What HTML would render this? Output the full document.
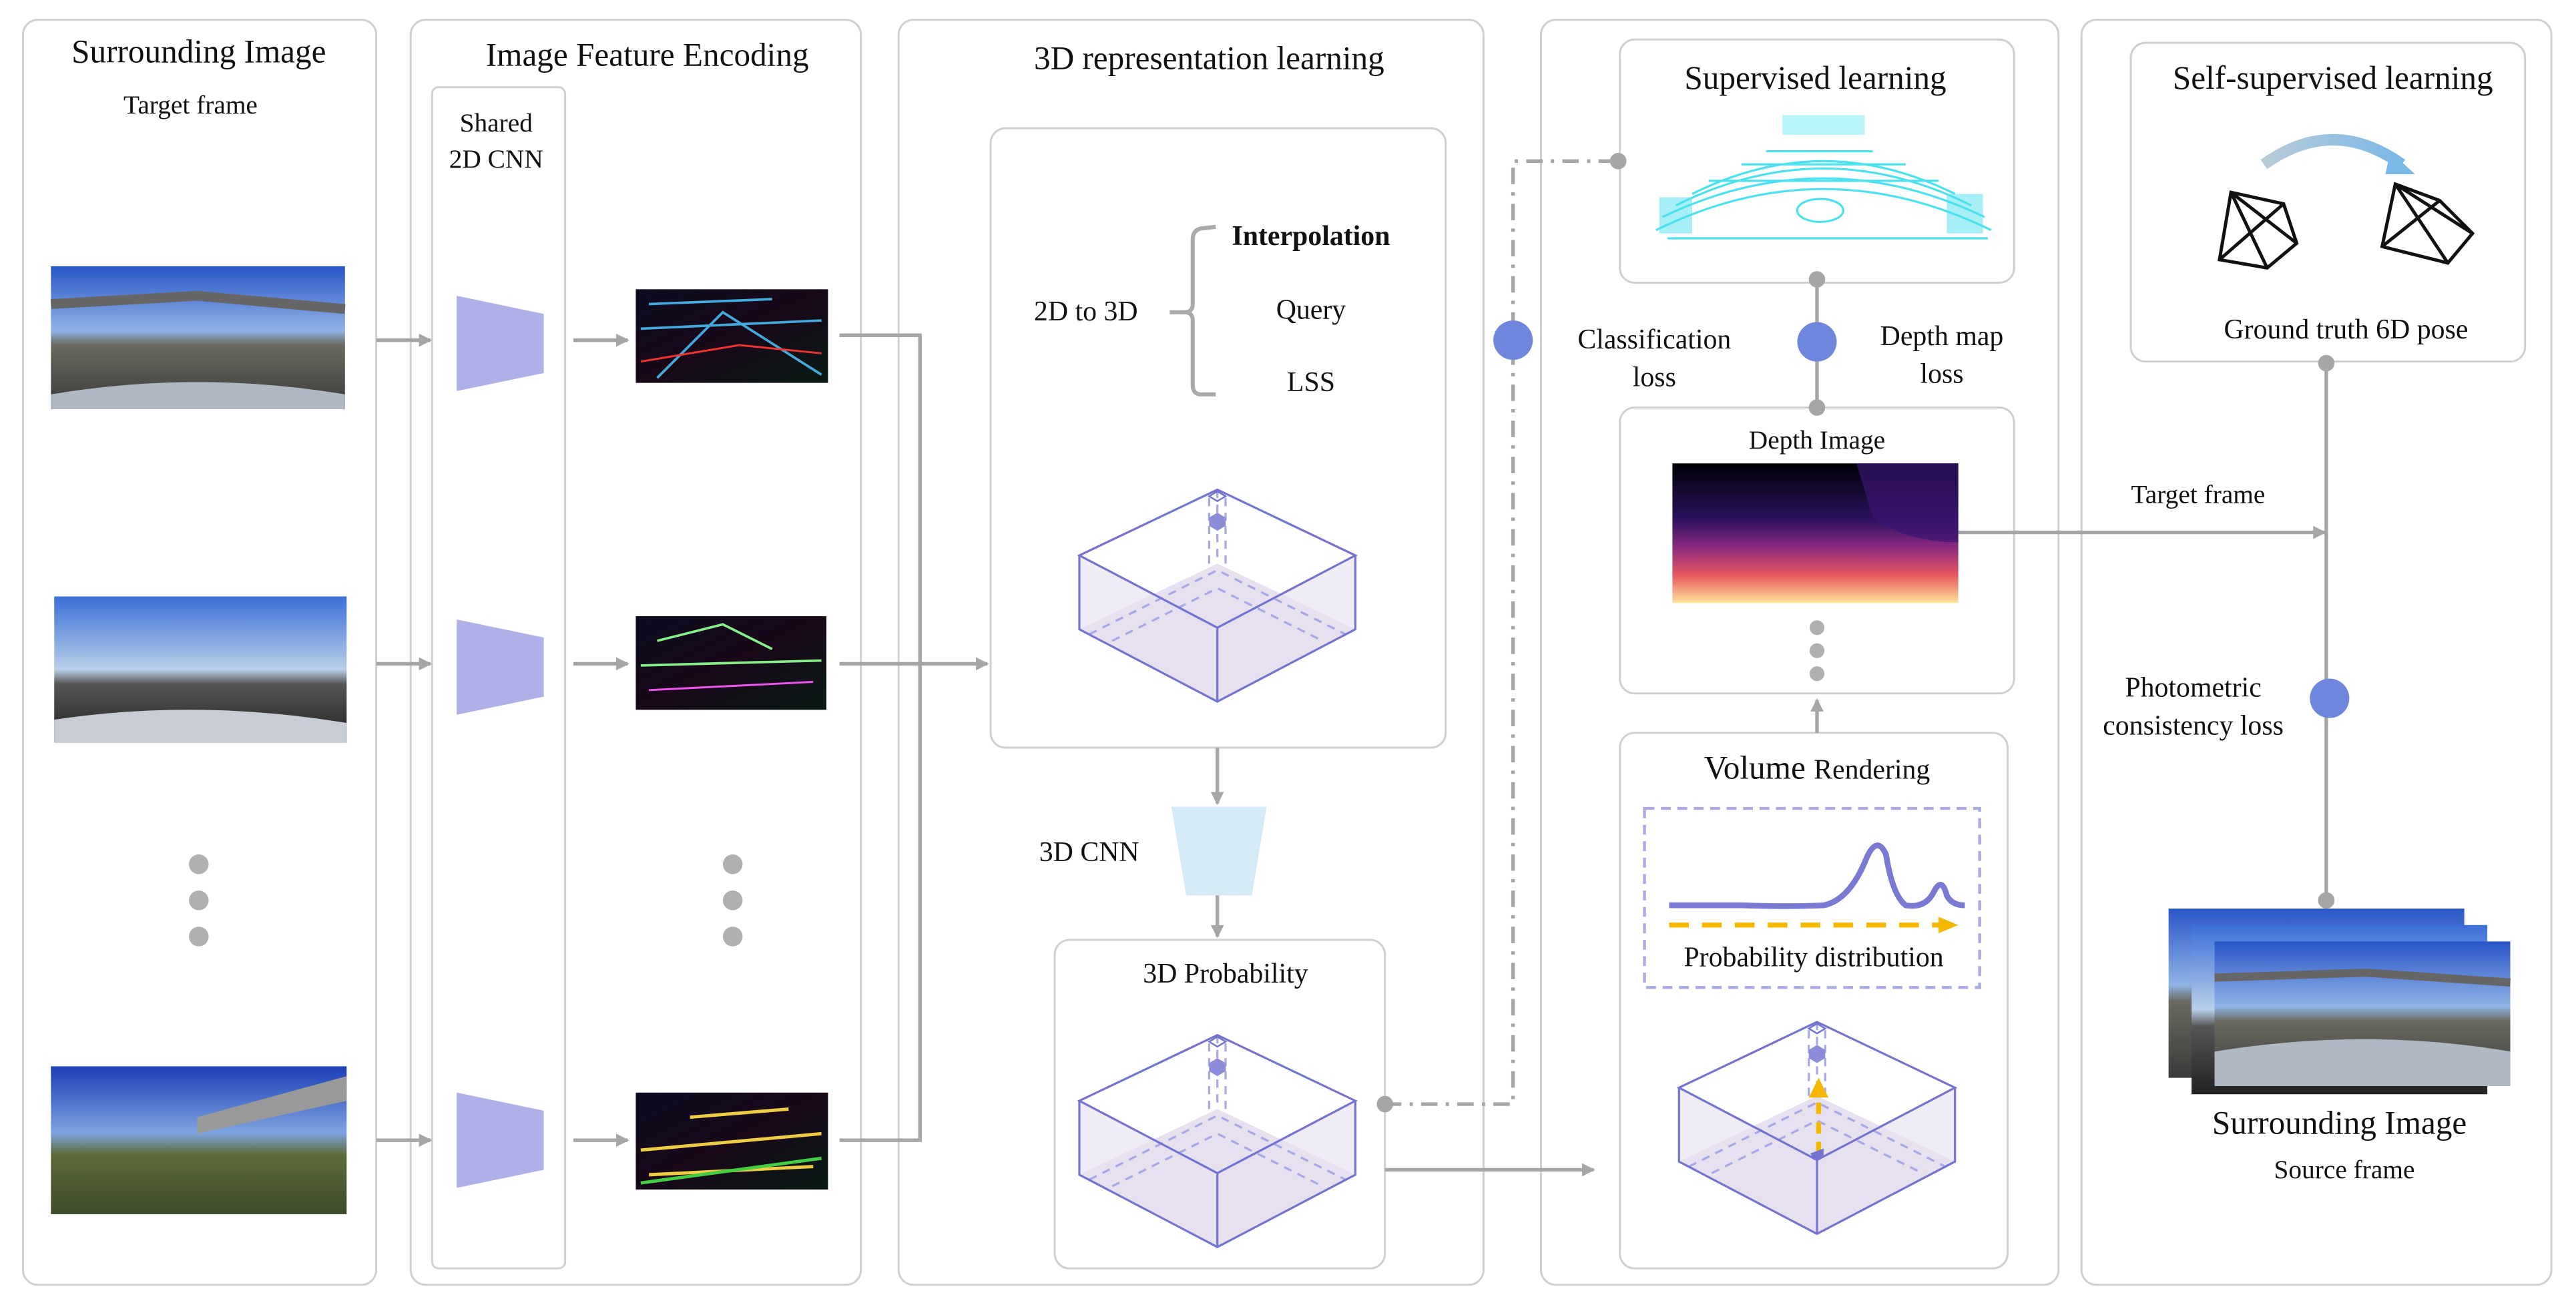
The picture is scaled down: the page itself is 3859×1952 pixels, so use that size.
<!DOCTYPE html>
<html><head><meta charset="utf-8"><style>
html,body{margin:0;padding:0;background:#fff;}
svg{display:block;font-family:"Liberation Serif",serif;}
svg text{font-family:"Liberation Serif",serif;fill:#111;}
</style></head><body>
<svg width="3859" height="1952" viewBox="0 0 1568 793" xmlns="http://www.w3.org/2000/svg" font-family="Liberation Serif, serif">
<defs>
<marker id="ah" markerWidth="8" markerHeight="8" refX="7" refY="4" orient="auto" markerUnits="userSpaceOnUse"><path d="M0,0 L8,4 L0,8 Z" fill="#a6a6a6"/></marker>
<marker id="ahy" markerWidth="12" markerHeight="10" refX="10" refY="5" orient="auto" markerUnits="userSpaceOnUse"><path d="M0,0 L12,5 L0,10 Z" fill="#f5b800"/></marker>
<linearGradient id="sky" x1="0" y1="0" x2="0" y2="1"><stop offset="0" stop-color="#2a55c8"/><stop offset="0.45" stop-color="#8fb3e6"/><stop offset="0.55" stop-color="#6a6a60"/><stop offset="1" stop-color="#3a3a3a"/></linearGradient>
<linearGradient id="sky2" x1="0" y1="0" x2="0" y2="1"><stop offset="0" stop-color="#3b6fd8"/><stop offset="0.5" stop-color="#b8cfe8"/><stop offset="0.6" stop-color="#555"/><stop offset="1" stop-color="#222"/></linearGradient>
<linearGradient id="sky3" x1="0" y1="0" x2="0" y2="1"><stop offset="0" stop-color="#1b3fb5"/><stop offset="0.45" stop-color="#7da3e0"/><stop offset="0.6" stop-color="#5d6b3a"/><stop offset="1" stop-color="#3d4a2a"/></linearGradient>
<linearGradient id="depth" x1="0" y1="0" x2="0" y2="1"><stop offset="0" stop-color="#000004"/><stop offset="0.4" stop-color="#2c115f"/><stop offset="0.6" stop-color="#8c2981"/><stop offset="0.8" stop-color="#e8575e"/><stop offset="1" stop-color="#fde59b"/></linearGradient>
<linearGradient id="feat" x1="0" y1="0" x2="1" y2="1"><stop offset="0" stop-color="#0c0c20"/><stop offset="0.5" stop-color="#180818"/><stop offset="1" stop-color="#081a14"/></linearGradient>
<linearGradient id="arc" x1="0" y1="0" x2="1" y2="0"><stop offset="0" stop-color="#b8cbd8"/><stop offset="1" stop-color="#7ab8e8"/></linearGradient>
<g id="cube">
<path d="M0,45 L-84,85 L0,129 L84,85 Z" fill="#e6e0ef"/>
<path d="M-84,40 L-84,85 L0,129 L84,85 L84,40 L0,84 Z" fill="#e6e0ef" opacity="0.6"/>
<g stroke="#a8a8e6" stroke-width="1.3" stroke-dasharray="5,4" fill="none">
<path d="M0,0 L0,45"/><path d="M-5,22 L-5,45 M5,22 L5,45"/>
<path d="M-78,88 L0,49 L78,88"/><path d="M-64,92 L0,60 L64,92"/>
<path d="M-5,5 L-5,20 M5,5 L5,20"/>
</g>
<path d="M0,0 L-84,40 L0,84 L84,40 Z M-84,40 L-84,85 L0,129 L84,85 L84,40 M0,84 L0,129" fill="none" stroke="#7474d0" stroke-width="1.3"/>
<path d="M-5,4 L0,1 L5,4 L0,7 Z" fill="none" stroke="#7474d0" stroke-width="1"/>
<path d="M-5,17 L0,14 L5,17 L5,22 L0,25 L-5,22 Z" fill="#8c8cd8"/>
</g>
</defs>

<g fill="none" stroke="#cfcfcf" stroke-width="1.2">
<rect x="14" y="12" width="215" height="770" rx="9"/>
<rect x="250" y="12" width="274" height="770" rx="9"/>
<rect x="263" y="53" width="81" height="719" rx="4"/>
<rect x="547" y="12" width="356" height="770" rx="9"/>
<rect x="603" y="78" width="277" height="377" rx="9"/>
<rect x="642" y="572" width="201" height="200" rx="9"/>
<rect x="938" y="12" width="315" height="770" rx="9"/>
<rect x="986" y="24" width="240" height="148" rx="9"/>
<rect x="986" y="248" width="240" height="174" rx="9"/>
<rect x="986" y="446" width="236" height="326" rx="9"/>
<rect x="1267" y="12" width="286" height="770" rx="9"/>
<rect x="1297" y="26" width="240" height="194" rx="9"/>
</g>

<text x="121" y="38" font-size="20" text-anchor="middle">Surrounding Image</text>
<text x="116" y="69" font-size="16" text-anchor="middle">Target frame</text>
<text x="394" y="40" font-size="20" text-anchor="middle">Image Feature Encoding</text>
<text x="302" y="80" font-size="16" text-anchor="middle">Shared</text>
<text x="302" y="102" font-size="16" text-anchor="middle">2D CNN</text>
<text x="736" y="42" font-size="20" text-anchor="middle">3D representation learning</text>
<text x="1105" y="54" font-size="20" text-anchor="middle">Supervised learning</text>
<text x="1420" y="54" font-size="20" text-anchor="middle">Self-supervised learning</text>

<rect x="31" y="162" width="179" height="87" fill="url(#sky)"/>
<path d="M31,185 L120,180 L210,188" stroke="#666" stroke-width="6" fill="none"/>
<path d="M31,240 Q120,225 210,240 L210,249 L31,249 Z" fill="#b0b8c4"/>
<rect x="33" y="363" width="178" height="89" fill="url(#sky2)"/>
<path d="M33,438 Q120,425 211,440 L211,452 L33,452Z" fill="#c8ccd4"/>
<rect x="31" y="649" width="180" height="90" fill="url(#sky3)"/>
<path d="M120,680 L211,655 L211,670 L120,690 Z" fill="#999"/>

<rect x="387" y="176" width="117" height="57" fill="url(#feat)"/>
<path d="M390,200 L500,195 M400,230 L440,190 L500,228 M395,185 L470,182" stroke="#4ad" stroke-width="1.5" fill="none"/>
<path d="M390,220 L450,210 L500,215" stroke="#e33" stroke-width="1.2" fill="none"/>
<rect x="387" y="375" width="116" height="57" fill="url(#feat)"/>
<path d="M390,405 L500,402 M400,390 L440,380 L470,395" stroke="#8e8" stroke-width="1.5" fill="none"/>
<path d="M395,420 L495,415" stroke="#e5e" stroke-width="1.2" fill="none"/>
<rect x="387" y="665" width="117" height="59" fill="url(#feat)"/>
<path d="M390,700 L500,690 M395,715 L495,710 M420,680 L480,675" stroke="#ec4" stroke-width="2" fill="none"/>
<path d="M390,720 L500,705" stroke="#4c4" stroke-width="2" fill="none"/>

<g fill="#b0b0e8">
<path d="M278,180 L331,191 L331,227 L278,238 Z"/>
<path d="M278,377 L331,388 L331,424 L278,435 Z"/>
<path d="M278,665 L331,676 L331,712 L278,723 Z"/>
</g>

<g fill="#b0b0b0">
<circle cx="121" cy="526" r="6"/><circle cx="121" cy="548" r="6"/><circle cx="121" cy="570" r="6"/>
<circle cx="446" cy="526" r="6"/><circle cx="446" cy="548" r="6"/><circle cx="446" cy="570" r="6"/>
<circle cx="1106" cy="382" r="4.5"/><circle cx="1106" cy="396" r="4.5"/><circle cx="1106" cy="410" r="4.5"/>
</g>

<g stroke="#a6a6a6" stroke-width="2.2" fill="none">
<path d="M229,207 L262,207" marker-end="url(#ah)"/>
<path d="M229,404 L262,404" marker-end="url(#ah)"/>
<path d="M229,694 L262,694" marker-end="url(#ah)"/>
<path d="M349,207 L382,207" marker-end="url(#ah)"/>
<path d="M349,404 L382,404" marker-end="url(#ah)"/>
<path d="M349,694 L382,694" marker-end="url(#ah)"/>
<path d="M511,204 L560,204 L560,694 L511,694"/>
<path d="M511,404 L560,404"/>
<path d="M560,404 L601,404" marker-end="url(#ah)"/>
<path d="M741,455 L741,489" marker-end="url(#ah)"/>
<path d="M741,545 L741,570" marker-end="url(#ah)"/>
<path d="M843,712 L970,712" marker-end="url(#ah)"/>
<path d="M1106,172 L1106,248"/>
<path d="M1106,446 L1106,426" marker-end="url(#ah)"/>
<path d="M1192,324 L1415,324" marker-end="url(#ah)"/>
<path d="M1416,220 L1416,548"/>
<path d="M843,672 L921,672 L921,98 L985,98" stroke-dasharray="10,5,2,5"/>
</g>
<g fill="#a6a6a6">
<circle cx="843" cy="672" r="5"/><circle cx="985" cy="98" r="5"/>
<circle cx="1106" cy="170" r="5"/><circle cx="1106" cy="248" r="5"/>
<circle cx="1416" cy="221" r="5"/><circle cx="1416" cy="548" r="5"/>
</g>
<g fill="#6f86dd">
<circle cx="921" cy="207" r="12"/><circle cx="1106" cy="208" r="12"/><circle cx="1418" cy="425" r="12"/>
</g>

<text x="661" y="195" font-size="17" text-anchor="middle">2D to 3D</text>
<path d="M740,138 L731,139 Q726,140 726,146 L726,185 Q726,190 721,190 L712,190 M721,190 Q726,190 726,195 L726,234 Q726,240 731,240 L740,240" fill="none" stroke="#aaa" stroke-width="2.5"/>
<text x="798" y="149" font-size="17" font-weight="bold" text-anchor="middle">Interpolation</text>
<text x="798" y="194" font-size="17" text-anchor="middle">Query</text>
<text x="798" y="238" font-size="17" text-anchor="middle">LSS</text>
<use href="#cube" x="741" y="298"/>

<path d="M713,491 L771,491 L762,545 L722,545 Z" fill="#d4eaf6"/>
<text x="663" y="524" font-size="17" text-anchor="middle">3D CNN</text>
<text x="746" y="598" font-size="17" text-anchor="middle">3D Probability</text>
<use href="#cube" x="741" y="630"/>

<g stroke="#4de0ee" stroke-width="1.3" fill="none">
<path d="M1008,140 Q1110,90 1212,140"/><path d="M1012,132 Q1110,85 1208,132"/>
<path d="M1020,125 Q1110,80 1200,125"/><path d="M1030,118 Q1110,78 1190,118"/>
<path d="M1015,145 L1210,145"/><path d="M1040,110 L1180,110"/>
<path d="M1060,100 L1160,100"/><path d="M1075,92 L1140,92"/>
<ellipse cx="1108" cy="128" rx="14" ry="7"/>
</g>
<g fill="#4de0ee"><rect x="1010" y="120" width="20" height="22" opacity="0.5"/><rect x="1185" y="118" width="22" height="24" opacity="0.5"/><rect x="1085" y="70" width="50" height="12" opacity="0.4"/></g>

<text x="1007" y="212" font-size="17" text-anchor="middle">Classification</text>
<text x="1007" y="235" font-size="17" text-anchor="middle">loss</text>
<text x="1182" y="210" font-size="17" text-anchor="middle">Depth map</text>
<text x="1182" y="233" font-size="17" text-anchor="middle">loss</text>

<text x="1106" y="273" font-size="16" text-anchor="middle">Depth Image</text>
<rect x="1018" y="282" width="174" height="85" fill="url(#depth)"/>
<path d="M1130,282 L1192,282 L1192,330 Q1160,330 1140,315 Z" fill="#3a1670" opacity="0.7"/>

<text x="1106" y="474" font-size="20" text-anchor="middle">Volume <tspan font-size="17">Rendering</tspan></text>
<rect x="1001" y="492" width="204" height="109" fill="none" stroke="#ababe4" stroke-width="1.8" stroke-dasharray="6,4"/>
<path d="M1016,551 L1060,551 Q1090,552 1110,551 Q1125,548 1135,525 Q1142,507 1148,520 Q1152,545 1160,551 Q1172,553 1177,543 Q1182,533 1185,545 Q1188,551 1196,551" fill="none" stroke="#7a7ad4" stroke-width="3.5"/>
<path d="M1016,563 L1190,563" stroke="#f5b800" stroke-width="3" stroke-dasharray="12,8" marker-end="url(#ahy)"/>
<text x="1104" y="588" font-size="17" text-anchor="middle">Probability distribution</text>
<use href="#cube" x="1106" y="622"/>
<path d="M1107,702 L1107,668" stroke="#f5b800" stroke-width="3" stroke-dasharray="7,5"/>
<path d="M1101,668 L1107,656 L1113,668 Z" fill="#f5b800"/>
<path d="M1102,702 L1110,699 L1110,704 L1104,706 Z" fill="#7474d0"/>

<path d="M1378,100 Q1420,70 1462,100" fill="none" stroke="url(#arc)" stroke-width="7"/>
<path d="M1455,92 L1470,106 L1452,106 Z" fill="#7ab8e8"/>
<g fill="none" stroke="#111" stroke-width="2">
<path d="M1358,117 L1390,124 L1398,148 L1380,163 L1351,158 Z M1358,117 L1380,163 M1390,124 L1351,158 M1358,117 L1398,148"/>
<path d="M1458,112 L1485,122 L1505,142 L1490,160 L1450,150 Z M1458,112 L1490,160 M1485,122 L1450,150 M1458,112 L1505,142"/>
</g>
<text x="1428" y="206" font-size="17" text-anchor="middle">Ground truth 6D pose</text>
<text x="1338" y="306" font-size="16" text-anchor="middle">Target frame</text>
<text x="1335" y="424" font-size="17" text-anchor="middle">Photometric</text>
<text x="1335" y="447" font-size="17" text-anchor="middle">consistency loss</text>

<rect x="1320" y="553" width="180" height="103" fill="url(#sky)"/>
<rect x="1334" y="563" width="180" height="103" fill="url(#sky2)"/>
<rect x="1348" y="573" width="180" height="88" fill="url(#sky)"/>
<path d="M1348,640 Q1440,625 1528,640 L1528,661 L1348,661Z" fill="#b0b8c4"/>
<path d="M1348,595 L1440,592 L1528,598" stroke="#666" stroke-width="5" fill="none"/>
<text x="1424" y="690" font-size="20" text-anchor="middle">Surrounding Image</text>
<text x="1427" y="717" font-size="16" text-anchor="middle">Source frame</text>
</svg>
</body></html>
